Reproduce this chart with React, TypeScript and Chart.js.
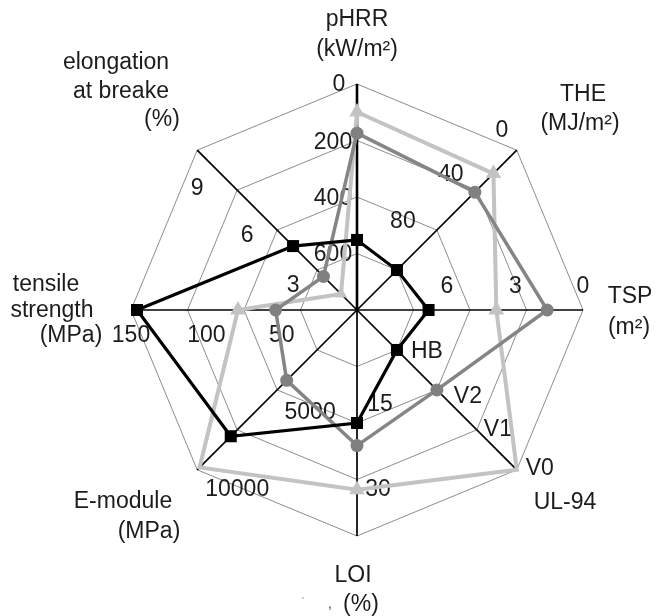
import React, { useEffect, useRef } from "react";
import { Chart, registerables } from "chart.js";

Chart.register(...registerables);

// ---- data ----
const categories = ["pHRR", "THE", "TSP", "UL-94", "LOI", "E-module", "tensile strength", "elongation at breake"];
// value at the centre and value at the outer ring of each axis
const axisAtCenter = [800, 160, 12, 0, 0, 0, 0, 0];
const axisAtOuter = [0, 0, 0, 4, 40, 10000, 150, 10];
const ul94Classes = ["", "HB", "V2", "V1", "V0"];

// UL-94 given as class index (1 = HB, 2 = V2, 3 = V1, 4 = V0)
const blackSeries = [552, 120, 8.2, 1, 20, 7900, 146, 4.0];
const darkSeries = [174, 42, 1.9, 2, 24, 4400, 54, 2.1];
const lightSeries = [99, 23.4, 4.6, 4, 31.8, 9850, 79, 1.0];

const tickValues = [
  [0, 200, 400, 600],
  [0, 40, 80],
  [0, 3, 6],
  [1, 2, 3, 4],
  [15, 30],
  [5000, 10000],
  [150, 100, 50],
  [9, 6, 3],
];

const axisTitles = [
  ["pHRR", "(kW/m²)"],
  ["THE", "(MJ/m²)"],
  ["TSP", "(m²)"],
  ["UL-94"],
  ["LOI", "(%)"],
  ["E-module", "(MPa)"],
  ["tensile", "strength", "(MPa)"],
  ["elongation", "at breake", "(%)"],
];

// ---- layout (label offsets, px) ----
const tickOffsets = [
  [[-18, 1], [-24, 2], [-24, 2], [-24, 1]],
  [[-15, -20], [-26, -15], [-34, -8]],
  [[0, -23], [-11, -23], [-23, -23]],
  [[30, 2], [31, 7], [21, 0], [23, -1]],
  [[23, 10], [21, 10]],
  [[33, 23], [40, 20]],
  [[0, 26], [0, 26], [0, 26]],
  [[-16, 22], [-14, 22], [-16, 24]],
];
const titleOffsets = [
  [[0, -290], [0, -260]],
  [[226, -215], [223, -186]],
  [[273, -13], [272, 18]],
  [[208, 193]],
  [[-4, 266], [4, 295]],
  [[-234, 192], [-208, 222]],
  [[-311, -25], [-305, 1], [-286, 26]],
  [[-241, -247], [-236, -218], [-195, -190]],
];

const FONT = "23px 'Liberation Sans', Arial, sans-serif";

const norm = (v: number, i: number) => (v - axisAtCenter[i]) / (axisAtOuter[i] - axisAtCenter[i]);
const tickText = (i: number, v: number) => (i === 3 ? ul94Classes[v] : String(v));

const annotate = {
  id: "annotate",
  beforeDatasetsDraw(chart: any) {
    const scale = chart.scales.r;
    const ctx = chart.ctx;
    ctx.save();
    ctx.font = FONT;
    ctx.fillStyle = "#1c1c1c";
    ctx.textAlign = "center";
    ctx.textBaseline = "middle";
    tickValues.forEach((vals, i) => {
      vals.forEach((v, j) => {
        const p = scale.getPointPosition(i, scale.getDistanceFromCenterForValue(norm(v, i)));
        const [dx, dy] = tickOffsets[i][j];
        ctx.fillText(tickText(i, v), p.x + dx, p.y + dy);
      });
    });
    axisTitles.forEach((lines, i) => {
      lines.forEach((t, j) => {
        const [dx, dy] = titleOffsets[i][j];
        ctx.fillText(t, scale.xCenter + dx, scale.yCenter + dy);
      });
    });
    // small specks left of "(%)"
    ctx.font = "14px 'Liberation Sans', Arial, sans-serif";
    ctx.fillStyle = "#999";
    ctx.fillText("`", scale.xCenter - 54, scale.yCenter + 294);
    ctx.fillStyle = "#444";
    ctx.fillText(",", scale.xCenter - 27, scale.yCenter + 294);
    ctx.restore();
  },
};

export default function App() {
  const ref = useRef<HTMLCanvasElement | null>(null);
  useEffect(() => {
    if (!ref.current) return;
    const chart = new Chart(ref.current, {
      type: "radar",
      data: {
        labels: categories,
        datasets: [
          {
            label: "black",
            data: blackSeries.map(norm),
            borderColor: "#000000",
            backgroundColor: "#000000",
            borderWidth: 3.2,
            fill: false,
            pointStyle: "rect",
            pointRadius: 8.5,
            pointBorderWidth: 0,
            pointBackgroundColor: "#000000",
          },
          {
            label: "dark",
            data: darkSeries.map(norm),
            borderColor: "#858585",
            backgroundColor: "#808080",
            borderWidth: 3.5,
            fill: false,
            pointStyle: "circle",
            pointRadius: 6.5,
            pointBorderWidth: 0,
            pointBackgroundColor: "#808080",
          },
          {
            label: "light",
            data: lightSeries.map(norm),
            borderColor: "#c3c3c3",
            backgroundColor: "#c3c3c3",
            borderWidth: 4,
            fill: false,
            pointStyle: "triangle",
            pointRadius: [9, 9, 9, 0, 9, 0, 9, 7],
            pointBorderWidth: 0,
            pointBackgroundColor: "#c3c3c3",
          },
        ],
      },
      options: {
        animation: false,
        responsive: true,
        maintainAspectRatio: false,
        layout: { padding: { left: 123, right: 69, top: 76, bottom: 80 } },
        plugins: { legend: { display: false }, tooltip: { enabled: false } },
        elements: { line: { tension: 0 } },
        scales: {
          r: {
            min: 0,
            max: 1,
            ticks: { display: false, stepSize: 0.25 },
            pointLabels: { display: false },
            grid: { color: "#8c8c8c", lineWidth: 1 },
            angleLines: {
              color: "#000000",
              lineWidth: (c: any) => (c.index === 0 ? 2.6 : 1.7),
            },
          },
        },
      },
      plugins: [annotate],
    });
    return () => chart.destroy();
  }, []);
  return (
    <div style={{ width: 644, height: 608, position: "relative" }}>
      <canvas ref={ref} />
    </div>
  );
}
